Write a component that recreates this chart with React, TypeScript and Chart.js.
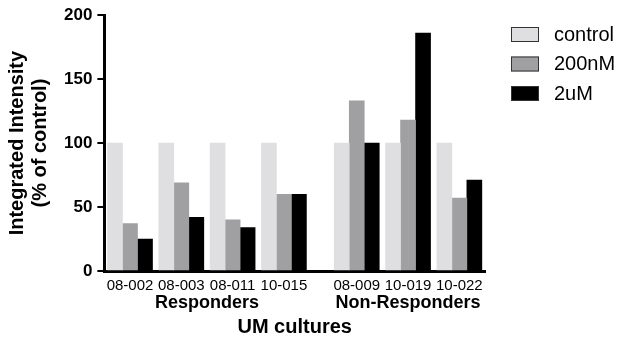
import React, { useEffect, useRef } from "react";
import { Chart, registerables } from "chart.js";

Chart.register(...registerables);

// UM culture identifiers, responders first, then non-responders
const cultures = ["08-002", "08-003", "08-011", "10-015", "08-009", "10-019", "10-022"];
const groupNames = ["Responders", "Non-Responders"];
const groupSizes = [4, 3];

// Integrated intensity, % of control
const controlValues = [100, 100, 100, 100, 100, 100, 100];
const nM200Values = [37, 69, 40, 60, 133, 118, 57];
const uM2Values = [25, 42, 34, 60, 100, 186, 71];

const yTicks = [0, 50, 100, 150, 200];

const FONT = "'Liberation Sans', Arial, Helvetica, sans-serif";
const GROUP_GAP = 0.42; // extra space between the two culture groups, in slot units

// slot position of culture i along the linear x axis
function slotPos(i: number): number {
  return i + (i >= groupSizes[0] ? GROUP_GAP : 0);
}

function groupCenters(): number[] {
  const centers: number[] = [];
  let start = 0;
  for (const size of groupSizes) {
    centers.push((slotPos(start) + slotPos(start + size - 1)) / 2);
    start += size;
  }
  return centers;
}

// Group names under the culture labels, centred on each group of bars
const groupLabelPlugin = {
  id: "groupLabels",
  afterDraw(chart: any) {
    const { ctx, chartArea, scales } = chart;
    const x = scales.x;
    ctx.save();
    ctx.fillStyle = "#000";
    ctx.font = `bold 18px ${FONT}`;
    ctx.textAlign = "center";
    ctx.textBaseline = "middle";
    groupCenters().forEach((c, i) => {
      ctx.fillText(groupNames[i], x.getPixelForValue(c), chartArea.bottom + 32);
    });
    ctx.restore();
  },
};

// Legend boxes with thin outlines, to the right of the plot
const boxLegendPlugin = {
  id: "boxLegend",
  afterDraw(chart: any) {
    const { ctx, chartArea } = chart;
    const left = chartArea.right + 26;
    ctx.save();
    ctx.font = `20px ${FONT}`;
    ctx.textAlign = "left";
    ctx.textBaseline = "middle";
    chart.data.datasets.forEach((ds: any, i: number) => {
      const top = 27 + i * 29.5;
      ctx.fillStyle = ds.backgroundColor;
      ctx.fillRect(left, top, 28, 15);
      ctx.lineWidth = 1;
      ctx.strokeStyle = "#333";
      ctx.strokeRect(left + 0.5, top + 0.5, 27, 14);
      ctx.fillStyle = "#000";
      ctx.fillText(ds.label, left + 43, top + 8);
    });
    ctx.restore();
  },
};

export default function App() {
  const canvasRef = useRef<HTMLCanvasElement | null>(null);

  useEffect(() => {
    const canvas = canvasRef.current;
    if (!canvas) return;
    Chart.defaults.font.family = FONT;
    Chart.defaults.color = "#000";

    const toPoints = (vals: number[]) => vals.map((v, i) => ({ x: slotPos(i), y: v }));
    const xMin = -0.5;
    const xMax = slotPos(cultures.length - 1) + 0.5;

    const chart = new Chart(canvas, {
      type: "bar",
      data: {
        datasets: [
          { label: "control", data: toPoints(controlValues), backgroundColor: "#dfdfe1", borderWidth: 0 },
          { label: "200nM", data: toPoints(nM200Values), backgroundColor: "#a0a0a2", borderWidth: 0 },
          { label: "2uM", data: toPoints(uM2Values), backgroundColor: "#000000", borderWidth: 0 },
        ],
      },
      options: {
        animation: false,
        responsive: true,
        maintainAspectRatio: false,
        barThickness: 15,
        layout: { padding: { top: 15, right: 133, bottom: 3, left: 6 } },
        plugins: {
          tooltip: { enabled: false },
          legend: { display: false },
        },
        scales: {
          x: {
            type: "linear",
            position: "bottom",
            min: xMin,
            max: xMax,
            offset: false,
            grid: { display: false, drawTicks: false },
            border: { display: true, width: 3, color: "#000" },
            afterBuildTicks: (scale: any) => {
              scale.ticks = cultures.map((_, i) => ({ value: slotPos(i) }));
            },
            ticks: {
              autoSkip: false,
              maxRotation: 0,
              padding: 6,
              color: "#000",
              font: { size: 15, family: FONT },
              callback: (_v: any, index: number) => cultures[index],
            },
            title: {
              display: true,
              text: "UM cultures",
              color: "#000",
              font: { size: 20, weight: "bold", family: FONT },
              padding: { top: 14, bottom: 0 },
            },
          },
          y: {
            min: 0,
            max: 200,
            afterBuildTicks: (scale: any) => {
              scale.ticks = yTicks.map((v) => ({ value: v }));
            },
            grid: { drawOnChartArea: false, drawTicks: true, tickLength: 7, lineWidth: 2, color: "#000" },
            border: { display: true, width: 3, color: "#000" },
            ticks: {
              padding: 5,
              color: "#000",
              font: { size: 17, weight: "bold", family: FONT },
            },
            title: {
              display: true,
              text: ["Integrated Intensity", "(% of control)"],
              color: "#000",
              font: { size: 20, weight: "bold", family: FONT, lineHeight: 1.15 },
              padding: { top: 0, bottom: 7 },
            },
          },
        },
      } as any,
      plugins: [groupLabelPlugin, boxLegendPlugin],
    });

    return () => chart.destroy();
  }, []);

  return (
    <div style={{ position: "fixed", left: 0, top: 0, width: 618, height: 342, background: "#fff" }}>
      <canvas ref={canvasRef} />
    </div>
  );
}
